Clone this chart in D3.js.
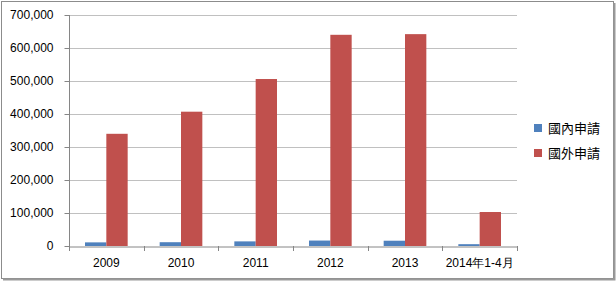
<!DOCTYPE html>
<html>
<head>
<meta charset="utf-8">
<script src="https://cdn.jsdelivr.net/npm/d3@7"></script>
<style>
  body { margin: 0; background: #fff; }
  svg { display: block; }
  .tick text { font-family: "Liberation Sans", Arial, sans-serif; font-size: 12px; fill: #000; }
</style>
</head>
<body>
<svg id="chart" width="616" height="281"></svg>
<script>
const categories = ['2009', '2010', '2011', '2012', '2013', '2014年1-4月'];
const seriesNames = ['國內申請', '國外申請'];
const domestic = [11000, 11500, 14000, 16500, 16000, 5500];
const foreign = [340000, 407000, 506000, 640000, 642000, 103000];
const yTicks = [0, 100000, 200000, 300000, 400000, 500000, 600000, 700000];
const colors = ['#4F81BD', '#C0504D'];

const margin = { top: 15, left: 69, right: 99, bottom: 35 };
const W = 616, H = 281;
const width = W - margin.left - margin.right;
const height = H - margin.top - margin.bottom;

const svg = d3.select('#chart');

// frame with a little shadow on the right/bottom
svg.append('rect').attr('x', 1.5).attr('y', 1.5).attr('width', W - 4).attr('height', H - 4)
  .attr('fill', '#fff').attr('stroke', '#8c8c8c').attr('stroke-width', 1);
svg.append('path').attr('d', `M${W - 1.5},3 V${H - 1.5} H3`)
  .attr('fill', 'none').attr('stroke', '#9a9a9a').attr('stroke-width', 2);

const g = svg.append('g').attr('transform', `translate(${margin.left},${margin.top})`);

const x0 = d3.scaleBand().domain(categories).range([0, width]);
const x1 = d3.scaleBand().domain(seriesNames).range([0, x0.bandwidth()]).paddingOuter(0.75).paddingInner(0);
const y = d3.scaleLinear().domain([0, 700000]).range([height, 0]);

// gridlines
g.append('g').selectAll('line').data(yTicks.slice(1)).join('line')
  .attr('x1', 0).attr('x2', width)
  .attr('y1', d => Math.round(y(d)) + 0.5).attr('y2', d => Math.round(y(d)) + 0.5)
  .attr('stroke', '#c0c0c0').attr('stroke-width', 1);

// bars
const data = categories.map((c, i) => ({ c, vals: [domestic[i], foreign[i]] }));
g.append('g').selectAll('g').data(data).join('g')
  .attr('transform', d => `translate(${x0(d.c)},0)`)
  .selectAll('rect').data(d => d.vals.map((v, k) => ({ k, v }))).join('rect')
  .attr('x', d => x1(seriesNames[d.k]))
  .attr('width', x1.bandwidth())
  .attr('y', d => y(d.v))
  .attr('height', d => y(0) - y(d.v))
  .attr('fill', d => colors[d.k]);

// y axis
const yAxis = g.append('g').attr('transform', 'translate(0.5,0)')
  .call(d3.axisLeft(y).tickValues(yTicks).tickSize(5).tickPadding(11).tickFormat(d3.format(',')));
yAxis.selectAll('line, path').attr('stroke', '#868686');
yAxis.select('.domain').attr('d', `M0,${height}V0`);

// x axis
const xAxis = g.append('g').attr('transform', `translate(0,${Math.round(height) + 0.5})`)
  .call(d3.axisBottom(x0).tickSize(0).tickPadding(10));
xAxis.select('.domain').attr('stroke', '#868686');
xAxis.selectAll('.tick text').attr('dy', '0.9em');
g.append('g').selectAll('line').data(d3.range(categories.length + 1)).join('line')
  .attr('x1', i => Math.round(i * x0.step()) + 0.5).attr('x2', i => Math.round(i * x0.step()) + 0.5)
  .attr('y1', height).attr('y2', height + 5)
  .attr('stroke', '#868686');

// legend
const legend = svg.append('g').attr('transform', 'translate(534,124)');
seriesNames.forEach((n, i) => {
  const row = legend.append('g').attr('transform', `translate(0,${i * 25})`);
  row.append('rect').attr('width', 8).attr('height', 8).attr('fill', colors[i]);
  row.append('text').attr('x', 14).attr('y', 4).attr('dy', '0.35em')
    .attr('font-family', '"Noto Sans CJK TC", sans-serif').attr('font-size', 13)
    .attr('fill', '#000').text(n);
});
</script>
</body>
</html>
